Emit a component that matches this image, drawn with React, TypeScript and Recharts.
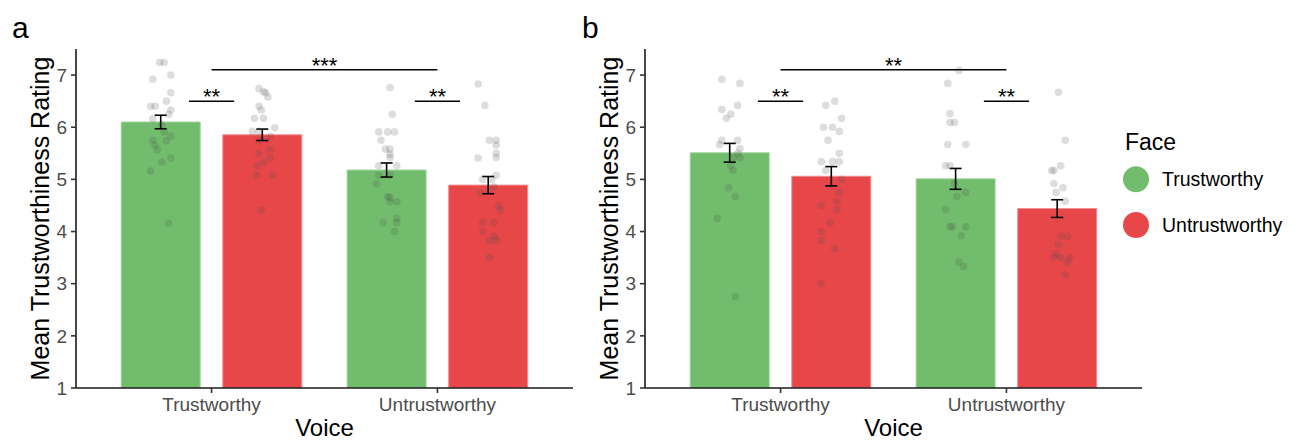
import React from 'react';
import { ComposedChart, Bar, Scatter, XAxis, YAxis, ErrorBar, ReferenceLine } from 'recharts';

const voices = ['Trustworthy', 'Untrustworthy'];
const faces = ['Trustworthy', 'Untrustworthy'];
const faceColors = ['#71bd6d', '#e8474a'];
const faceEdges = ['#a2d59e', '#f28c8e'];
const yTicks = [1, 2, 3, 4, 5, 6, 7];

// panel a – mean rating per voice, split by face
const meanA_faceT = [6.1, 5.18];
const meanA_faceU = [5.855, 4.89];
const seA_faceT = [0.13, 0.135];
const seA_faceU = [0.11, 0.165];

// panel b
const meanB_faceT = [5.51, 5.01];
const meanB_faceU = [5.06, 4.44];
const seB_faceT = [0.18, 0.2];
const seB_faceU = [0.185, 0.17];

// jittered participant points: [x position on the 0.4–2.6 scale, rating]
const ptsA_TT = [[0.77,7.24],[0.79,7.24],[0.82,7.0],[0.74,6.92],[0.82,6.66],[0.8,6.5],[0.73,6.4],[0.75,6.4],[0.82,6.33],[0.81,6.25],[0.74,6.16],[0.78,6.04],[0.79,5.91],[0.82,5.83],[0.74,5.75],[0.8,5.74],[0.75,5.66],[0.76,5.57],[0.82,5.41],[0.78,5.33],[0.73,5.16],[0.81,4.16]];
const ptsA_TU = [[1.21,6.74],[1.23,6.68],[1.24,6.66],[1.25,6.58],[1.21,6.4],[1.22,6.33],[1.19,6.17],[1.23,6.17],[1.28,5.99],[1.18,5.92],[1.21,5.92],[1.26,5.83],[1.21,5.74],[1.26,5.57],[1.21,5.49],[1.26,5.41],[1.23,5.33],[1.2,5.26],[1.2,5.08],[1.27,5.08],[1.22,4.41]];
const ptsA_UT = [[1.79,6.76],[1.8,6.25],[1.74,5.91],[1.78,5.91],[1.81,5.91],[1.75,5.75],[1.77,5.58],[1.79,5.58],[1.79,5.48],[1.79,5.42],[1.74,5.26],[1.82,5.26],[1.74,5.08],[1.79,5.08],[1.73,4.91],[1.78,4.67],[1.79,4.65],[1.79,4.57],[1.82,4.57],[1.82,4.25],[1.82,4.17],[1.76,4.17],[1.81,4.0]];
const ptsA_UU = [[2.18,6.83],[2.21,6.42],[2.23,5.75],[2.26,5.75],[2.26,5.66],[2.26,5.5],[2.26,5.42],[2.18,5.41],[2.2,5.0],[2.24,5.0],[2.26,5.08],[2.19,4.74],[2.25,4.86],[2.27,4.49],[2.28,4.41],[2.2,4.17],[2.25,4.17],[2.2,4.0],[2.25,3.91],[2.23,3.83],[2.26,3.83],[2.23,3.5]];

const ptsB_TT = [[0.74,6.92],[0.82,6.84],[0.74,6.34],[0.81,6.42],[0.78,6.25],[0.76,6.17],[0.74,5.75],[0.81,5.75],[0.73,5.67],[0.82,5.59],[0.81,5.5],[0.82,5.42],[0.79,5.42],[0.78,5.26],[0.79,5.17],[0.77,4.84],[0.8,4.67],[0.72,4.25],[0.8,2.75]];
const ptsB_TU = [[1.24,6.5],[1.2,6.42],[1.27,6.17],[1.19,6.0],[1.23,6.0],[1.26,5.92],[1.21,5.75],[1.26,5.5],[1.18,5.34],[1.23,5.34],[1.26,5.34],[1.2,5.17],[1.27,5.0],[1.26,4.75],[1.18,4.5],[1.25,4.58],[1.25,4.42],[1.22,4.17],[1.18,4.0],[1.18,3.83],[1.24,3.67],[1.18,3.0]];
const ptsB_UT = [[1.79,7.09],[1.74,6.84],[1.75,6.26],[1.75,6.09],[1.77,6.09],[1.74,5.67],[1.82,5.67],[1.73,5.26],[1.75,5.26],[1.77,4.92],[1.82,4.75],[1.78,4.67],[1.73,4.42],[1.75,4.09],[1.76,4.09],[1.82,4.09],[1.8,3.92],[1.79,3.42],[1.81,3.33]];
const ptsB_UU = [[2.23,6.67],[2.26,5.75],[2.24,5.26],[2.2,5.17],[2.21,5.17],[2.21,4.92],[2.25,4.84],[2.22,4.75],[2.26,4.58],[2.24,3.91],[2.27,3.91],[2.23,3.75],[2.22,3.58],[2.21,3.5],[2.24,3.5],[2.28,3.5],[2.27,3.41],[2.26,3.17]];

const bracketsA = [
  { x1: 0.9, x2: 1.1, y: 6.5, text: '**' },
  { x1: 1.9, x2: 2.1, y: 6.5, text: '**' },
  { x1: 1, x2: 2, y: 7.1, text: '***' },
];
const bracketsB = [
  { x1: 0.9, x2: 1.1, y: 6.5, text: '**' },
  { x1: 1.9, x2: 2.1, y: 6.5, text: '**' },
  { x1: 1, x2: 2, y: 7.1, text: '**' },
];

const FONT = '"Liberation Sans", Arial, Helvetica, sans-serif';

function Panel({ meanT, meanU, seT, seU, points, brackets }: any) {
  const data = voices.map((v, i) => ({ voice: v, faceT: meanT[i], seT: seT[i], faceU: meanU[i], seU: seU[i] }));
  const pts = points.flat().map(([x, y]: number[]) => ({ x, y }));

  return (
    <ComposedChart
      width={580}
      height={440}
      data={data}
      margin={{ top: 49, right: 7, left: 0, bottom: 0 }}
      barCategoryGap={22.6}
      barGap={22.6}
      style={{ fontFamily: FONT }}
    >
      <XAxis
        dataKey="voice"
        height={52}
        padding={{ left: 22.6, right: 22.6 }}
        tickSize={5}
        tickMargin={5}
        tick={{ fill: '#4d4d4d', fontSize: 19 }}
        axisLine={{ stroke: '#1a1a1a', strokeWidth: 1.6 }}
        tickLine={{ stroke: '#333', strokeWidth: 1.6 }}
        label={{ value: 'Voice', position: 'insideBottom', offset: 4, fontSize: 24, fill: '#000' }}
      />
      <XAxis xAxisId="n" type="number" dataKey="x" domain={[0.4, 2.6]} allowDataOverflow hide />
      <YAxis
        type="number"
        domain={[1, 7.5]}
        ticks={yTicks}
        allowDataOverflow
        width={76}
        tickSize={5}
        tickMargin={4}
        tick={{ fill: '#4d4d4d', fontSize: 19 }}
        axisLine={{ stroke: '#1a1a1a', strokeWidth: 1.6 }}
        tickLine={{ stroke: '#333', strokeWidth: 1.6 }}
        label={{ value: 'Mean Trustworthiness Rating', angle: -90, position: 'insideLeft', offset: 40, fontSize: 25, fill: '#000', style: { textAnchor: 'middle' } }}
      />
      <Bar dataKey="faceT" name={faces[0]} fill={faceColors[0]} stroke={faceEdges[0]} strokeWidth={1} isAnimationActive={false}>
        <ErrorBar dataKey="seT" width={6} stroke="#000" strokeWidth={1.6} />
      </Bar>
      <Bar dataKey="faceU" name={faces[1]} fill={faceColors[1]} stroke={faceEdges[1]} strokeWidth={1} isAnimationActive={false}>
        <ErrorBar dataKey="seU" width={6} stroke="#000" strokeWidth={1.6} />
      </Bar>
      <Scatter
        xAxisId="n"
        data={pts}
        dataKey="y"
        legendType="none"
        isAnimationActive={false}
        shape={(p: any) => <circle cx={p.cx} cy={p.cy} r={3.8} fill="#4d4d4d" fillOpacity={0.19} />}
      />
      {brackets.map((b: any, i: number) => (
        <ReferenceLine
          key={i}
          xAxisId="n"
          segment={[{ x: b.x1, y: b.y }, { x: b.x2, y: b.y }]}
          stroke="#000"
          strokeWidth={1.5}
          ifOverflow="visible"
          label={{ value: b.text, position: 'top', offset: -3, fontSize: 22, fill: '#000' }}
        />
      ))}
    </ComposedChart>
  );
}

export default function App() {
  return (
    <div style={{ position: 'absolute', left: 0, top: 0, width: 1299, height: 440, background: '#fff', fontFamily: FONT }}>
      <div style={{ position: 'absolute', left: 0, top: 0 }}>
        <Panel meanT={meanA_faceT} meanU={meanA_faceU} seT={seA_faceT} seU={seA_faceU}
          points={[ptsA_TT, ptsA_TU, ptsA_UT, ptsA_UU]} brackets={bracketsA} />
      </div>
      <div style={{ position: 'absolute', left: 569, top: 0 }}>
        <Panel meanT={meanB_faceT} meanU={meanB_faceU} seT={seB_faceT} seU={seB_faceU}
          points={[ptsB_TT, ptsB_TU, ptsB_UT, ptsB_UU]} brackets={bracketsB} />
      </div>
      <svg width={1299} height={440} style={{ position: 'absolute', left: 0, top: 0, pointerEvents: 'none' }}>
        <text x={12} y={38} fontSize={30} fontFamily={FONT} fill="#000">a</text>
        <text x={582} y={38} fontSize={30} fontFamily={FONT} fill="#000">b</text>
        <text x={1125} y={150} fontSize={23} fontFamily={FONT} fill="#000">Face</text>
        {faces.map((f, i) => (
          <g key={f}>
            <circle cx={1136} cy={179.3 + i * 45.7} r={13} fill={faceColors[i]} />
            <text x={1162} y={186.3 + i * 45.7} fontSize={19.5} fontFamily={FONT} fill="#000">{f}</text>
          </g>
        ))}
      </svg>
    </div>
  );
}
